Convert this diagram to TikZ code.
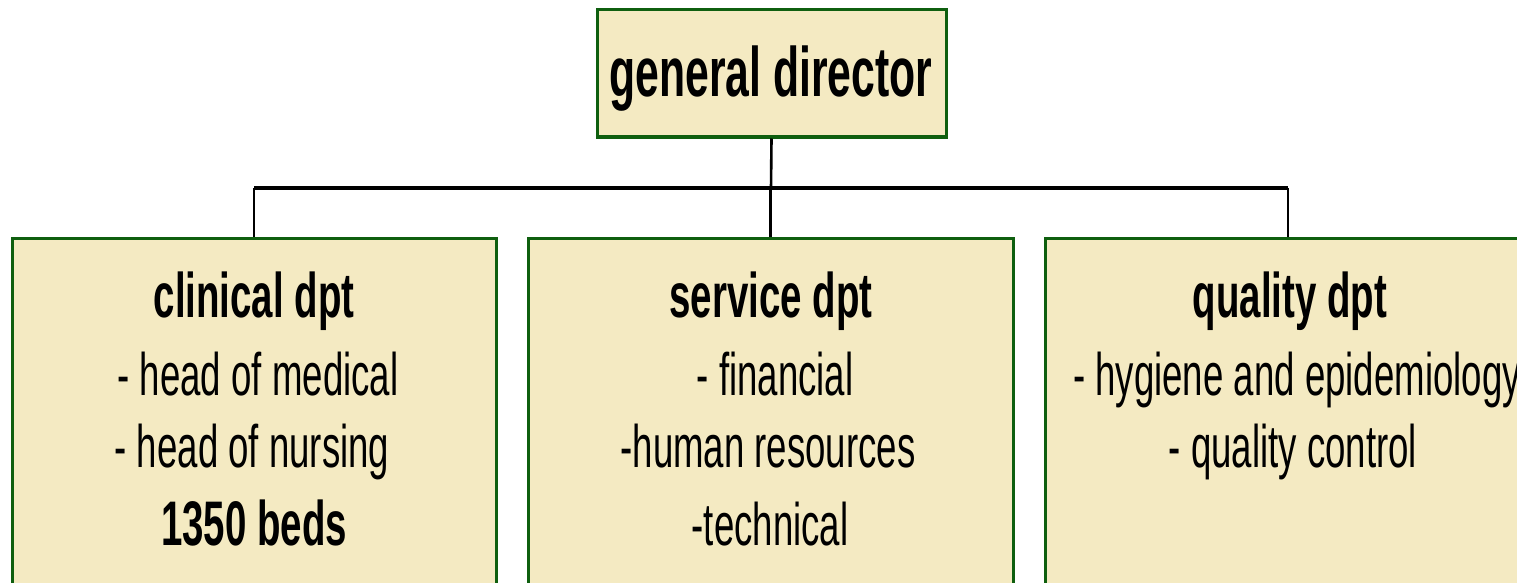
\documentclass[tikz,border=0pt]{standalone}
\usepackage{fontspec}
\setmainfont{Liberation Sans}[FakeStretch=0.61]
\definecolor{boxfill}{RGB}{244,234,194}
\definecolor{boxline}{RGB}{15,95,15}
\tikzset{
  orgbox/.style={draw=boxline, line width=3pt, fill=boxfill, inner sep=0pt},
  conn/.style={draw=black, line width=2.6pt},
  bus/.style={draw=black, line width=3.6pt},
  ttl/.style={anchor=base, inner sep=0pt, font=\fontsize{70}{80}\selectfont\bfseries},
  head/.style={anchor=base, inner sep=0pt, font=\fontsize{63}{76}\selectfont\bfseries},
  item/.style={anchor=base, inner sep=0pt, font=\fontsize{60}{76}\selectfont}
}
\begin{document}
\begin{tikzpicture}[x=1pt,y=-1pt]
\useasboundingbox (0,0) rectangle (1517,583);
\clip (0,0) rectangle (1517,583);
\node[orgbox, minimum width=349pt, minimum height=127pt] (gd) at (771.5,73.5) {};
\node[orgbox, minimum width=484pt, minimum height=420pt] (clin) at (254,448) {};
\node[orgbox, minimum width=485pt, minimum height=420pt] (serv) at (770.5,448) {};
\node[orgbox, minimum width=485pt, minimum height=420pt] (qual) at (1288,448) {};
\coordinate (busc) at (771,188);
\draw[conn] (gd.south) -- (busc);
\draw[bus] (clin.north |- busc) -- (qual.north |- busc);
\draw[conn] (clin.north |- busc) -- (clin.north);
\draw[conn] (serv.north |- busc) -- (serv.north);
\draw[conn] (qual.north |- busc) -- (qual.north);
\node[ttl] (gdt) at (771,97) {general director};
\node[head] (c1) at (254,317) {clinical dpt};
\node[item] (c2) at (258,395) {- head of medical};
\node[item] (c3) at (252,467) {- head of nursing};
\node[head] (c4) at (254,545) {1350 beds};
\node[head] (s1) at (771,317) {service dpt};
\node[item] (s2) at (775,395) {- financial};
\node[item] (s3) at (768,467) {-human resources};
\node[item] (s4) at (770,545) {-technical};
\node[head] (q1) at (1290,317) {quality dpt};
\node[item] (q2) at (1297,395) {- hygiene and epidemiology};
\node[item] (q3) at (1293,467) {- quality control};
\end{tikzpicture}
\end{document}
